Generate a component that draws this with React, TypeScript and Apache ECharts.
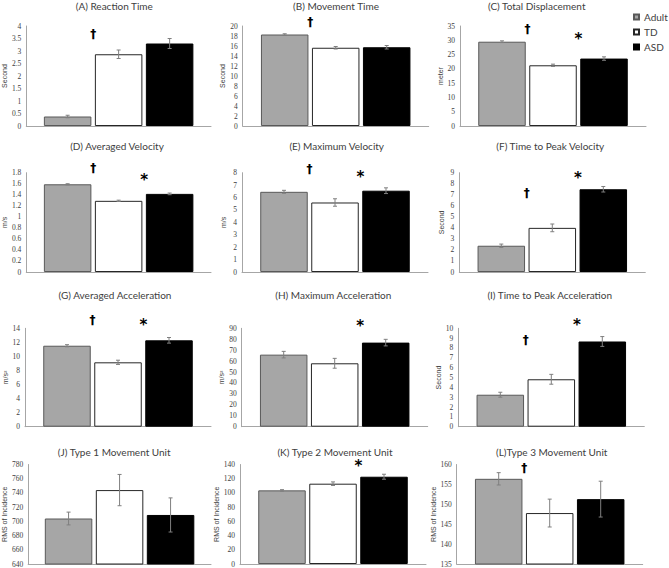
import React, { useEffect, useRef } from 'react';
import * as echarts from 'echarts';

const groups = ['Adult', 'TD', 'ASD'];
const panelTitles = [
  '(A) Reaction Time', '(B) Movement Time', '(C) Total Displacement',
  '(D) Averaged Velocity', '(E) Maximum Velocity', '(F) Time to Peak Velocity',
  '(G) Averaged Acceleration', '(H) Maximum Acceleration', '(I) Time to Peak Acceleration',
  '(J) Type 1 Movement Unit', '(K) Type 2 Movement Unit', '(L)Type 3 Movement Unit',
];
const yAxisNames = ['Second', 'Second', 'meter', 'm/s', 'm/s', 'Second', 'm/s²', 'm/s²', 'Second', 'RMS of Incidence', 'RMS of Incidence', 'RMS of Incidence'];
const yMin = [0, 0, 0, 0, 0, 0, 0, 0, 0, 640, 0, 135];
const yMax = [4, 20, 35, 1.8, 8, 9, 14, 90, 10, 780, 140, 160];
const yStep = [0.5, 2, 5, 0.2, 1, 1, 2, 10, 1, 20, 20, 5];

const adultMean = [0.38, 18.3, 29.5, 1.59, 6.46, 2.38, 11.52, 65.9, 3.25, 704, 103.6, 156.4];
const tdMean = [2.87, 15.65, 21.25, 1.29, 5.6, 4.0, 9.16, 58, 4.82, 744, 113, 147.8];
const asdMean = [3.3, 15.75, 23.6, 1.416, 6.55, 7.5, 12.29, 76.9, 8.66, 709, 122.8, 151.3];
const adultErr = [0.05, 0.15, 0.3, 0.01, 0.12, 0.15, 0.15, 3, 0.25, 9, 1, 1.55];
const tdErr = [0.17, 0.25, 0.4, 0.012, 0.3, 0.35, 0.3, 4.5, 0.5, 22, 2.5, 3.5];
const asdErr = [0.2, 0.35, 0.6, 0.015, 0.23, 0.25, 0.4, 3, 0.5, 24, 3.5, 4.5];

// significance marks: † between Adult and TD, * between TD and ASD (value = height on the panel's axis)
const daggerValues = [3.7, 20.9, 34.1, 1.88, 8.27, 7.13, 15.18, null, 8.83, null, null, 159.2];
const starValues = [null, null, 31.5, 1.73, 7.95, 8.85, 14.94, 95.2, 10.7, null, 142.4, null];

const means = [adultMean, tdMean, asdMean];
const errs = [adultErr, tdErr, asdErr];

// layout (pixels)
const ROW_TOP = [26, 172.7, 328.3, 464.5];
const ROW_H = [100, 99.3, 98.4, 100.5];
const PANEL_LEFT = [25, 242.7, 460, 25, 242, 459.3, 25, 241.7, 458.3, 25, 240, 456.7];
const TITLE_X = [114.3, 336, 536.7, 117, 336.7, 550.3, 115, 333.3, 549.7, 114.2, 335, 551.7];
const TITLE_Y = [6, 146, 295.3, 452];
const NAME_GAP = [16, 15, 14];
const GRID_W = 186;
const BAR_W = 47.5;
const BAR_GAP = 3.5;
const PITCH = BAR_W + BAR_GAP;

const barStyles = [
  { color: '#a6a6a6', borderColor: '#595959', borderWidth: 1 },
  { color: '#ffffff', borderColor: '#262626', borderWidth: 1 },
  { color: '#000000', borderColor: '#000000', borderWidth: 1 },
];

function buildOption() {
  const grid: any[] = [];
  const xAxis: any[] = [];
  const yAxis: any[] = [];
  const title: any[] = [];
  const series: any[] = [];

  panelTitles.forEach((t, p) => {
    const row = Math.floor(p / 3);
    const col = p % 3;
    grid.push({ left: PANEL_LEFT[p], top: ROW_TOP[row], width: GRID_W, height: ROW_H[row], containLabel: false });
    title.push({
      text: t, left: TITLE_X[p], top: TITLE_Y[row] - 6, textAlign: 'center', padding: 0,
      textStyle: { fontFamily: 'Lato', fontSize: 10, fontWeight: 'normal', color: '#404040', lineHeight: 12 },
    });
    xAxis.push({
      gridIndex: p, type: 'category', data: [''],
      axisLine: { show: true, lineStyle: { color: '#a6a6a6', width: 1 } },
      axisTick: { show: false }, axisLabel: { show: false }, splitLine: { show: false },
    });
    yAxis.push({
      gridIndex: p, type: 'value', min: yMin[p], max: yMax[p], interval: yStep[p],
      axisLine: { show: true, lineStyle: { color: '#a6a6a6', width: 1 } },
      axisTick: { show: false }, splitLine: { show: false },
      axisLabel: { fontFamily: 'Liberation Serif', fontSize: 7.5, color: '#404040', margin: 5 },
      name: yAxisNames[p], nameLocation: 'middle', nameGap: NAME_GAP[col],
      nameTextStyle: { fontFamily: 'Liberation Sans', fontSize: 7, color: '#404040' },
    });
    groups.forEach((g, gi) => {
      series.push({
        type: 'bar', name: g, xAxisIndex: p, yAxisIndex: p,
        data: [means[gi][p]], barWidth: BAR_W, barGap: (BAR_GAP / BAR_W * 100).toFixed(2) + '%',
        itemStyle: barStyles[gi], silent: true,
      });
    });
    series.push({
      type: 'custom', xAxisIndex: p, yAxisIndex: p, silent: true, z: 5,
      encode: { x: 0, y: 2 },
      data: groups.map((_, gi) => [0, gi, means[gi][p], errs[gi][p]]),
      renderItem: (params: any, api: any) => {
        const gi = api.value(1);
        const m = api.value(2);
        const e = api.value(3);
        const base = api.coord([0, m]);
        const x = base[0] + (gi - 1) * PITCH;
        const top = api.coord([0, m + e])[1];
        const bot = api.coord([0, m - e])[1];
        const st = { stroke: '#7f7f7f', lineWidth: 1 };
        return {
          type: 'group', children: [
            { type: 'line', shape: { x1: x, y1: top, x2: x, y2: bot }, style: st },
            { type: 'line', shape: { x1: x - 2, y1: top, x2: x + 2, y2: top }, style: st },
            { type: 'line', shape: { x1: x - 2, y1: bot, x2: x + 2, y2: bot }, style: st },
          ],
        };
      },
    });
    const markSyms: string[] = [];
    const markData: any[] = [];
    if (daggerValues[p] != null) { markSyms.push('†'); markData.push([0, 0, daggerValues[p]]); }
    if (starValues[p] != null) { markSyms.push('*'); markData.push([0, 1, starValues[p]]); }
    if (markData.length) {
      series.push({
        type: 'custom', xAxisIndex: p, yAxisIndex: p, silent: true, z: 6, clip: false,
        encode: { x: 0, y: 2 },
        data: markData,
        renderItem: (params: any, api: any) => {
          const sym = markSyms[params.dataIndex];
          const b = api.value(1);
          const v = api.value(2);
          const c = api.coord([0, v]);
          const x = c[0] + (b - 0.5) * PITCH;
          const isStar = sym === '*';
          const fs = isStar ? 15 : 12;
          return {
            type: 'text', x, y: c[1] + (isStar ? fs * 0.22 : 0),
            style: {
              text: sym, fontSize: fs, fontWeight: 'bold', fontFamily: 'DejaVu Sans',
              fill: '#000', align: 'center', verticalAlign: 'middle',
            },
          };
        },
      });
    }
  });

  return {
    animation: false,
    backgroundColor: '#ffffff',
    title,
    legend: {
      data: groups, orient: 'vertical', left: 633, top: 12, padding: 0,
      itemWidth: 5, itemHeight: 5, itemGap: 5, icon: 'rect',
      textStyle: { fontFamily: 'Lato', fontSize: 10, color: '#404040', lineHeight: 10 },
      selectedMode: false,
    },
    grid, xAxis, yAxis, series,
  };
}

export default function App() {
  const ref = useRef<HTMLDivElement>(null);
  useEffect(() => {
    if (!ref.current) return;
    const chart = echarts.init(ref.current, undefined, { renderer: 'svg' });
    chart.setOption(buildOption() as any);
    return () => chart.dispose();
  }, []);
  return <div ref={ref} style={{ position: 'absolute', left: 0, top: 0, width: 669, height: 568 }} />;
}
